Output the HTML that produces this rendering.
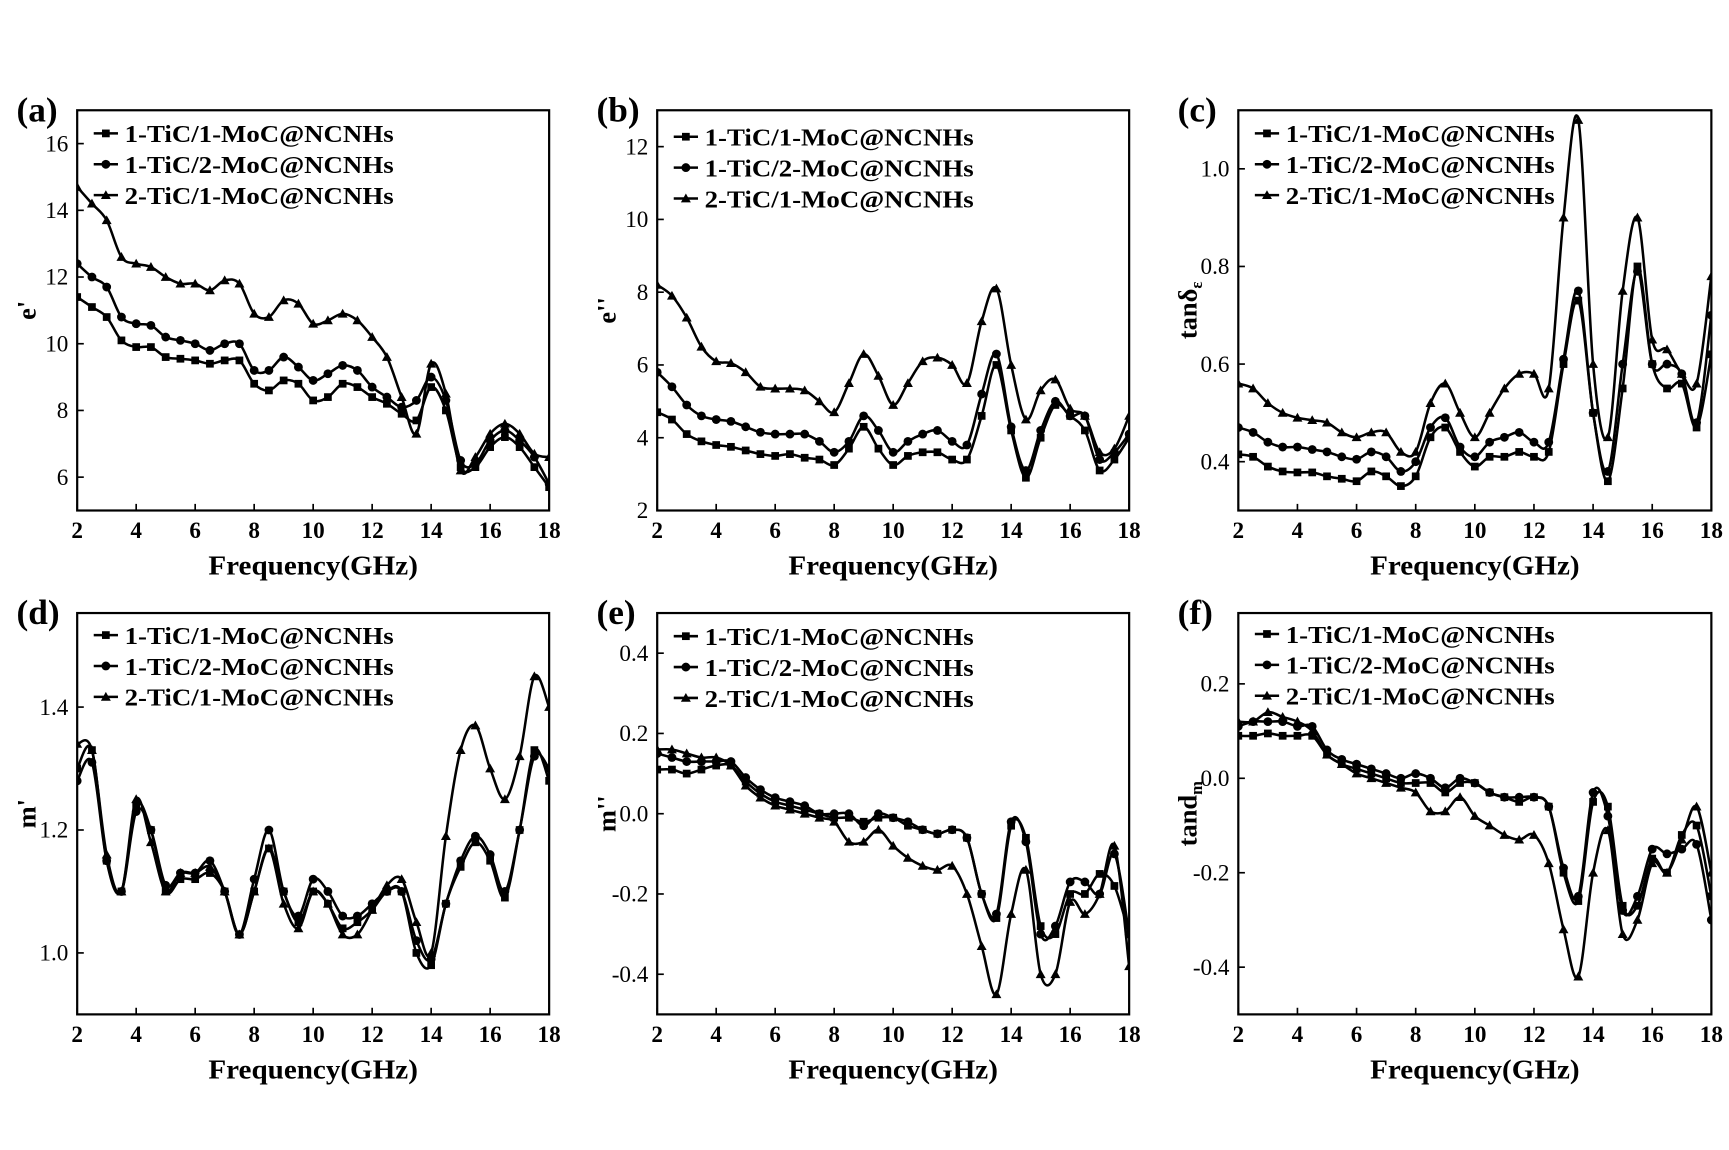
<!DOCTYPE html>
<html><head><meta charset="utf-8"><style>
html,body{margin:0;padding:0;background:#fff;}
svg{display:block;font-family:"Liberation Serif",serif;}
</style></head><body>
<svg id="chart" width="1729" height="1150" viewBox="0 0 1568 1043" preserveAspectRatio="none" xmlns="http://www.w3.org/2000/svg"></svg>
<script>
const freqs=[2,2.5,3,3.5,4,4.5,5,5.5,6,6.5,7,7.5,8,8.5,9,9.5,10,10.5,11,11.5,12,12.5,13,13.5,14,14.5,15,15.5,16,16.5,17,17.5,18];
const seriesNames=["1-TiC/1-MoC@NCNHs","1-TiC/2-MoC@NCNHs","2-TiC/1-MoC@NCNHs"];
const xTicks=[2,4,6,8,10,12,14,16,18];
const aS1=[11.4,11.1,10.8,10.1,9.9,9.9,9.6,9.55,9.5,9.4,9.5,9.5,8.8,8.6,8.9,8.8,8.3,8.4,8.8,8.7,8.4,8.2,7.9,7.7,8.7,8.0,6.3,6.3,6.9,7.2,6.9,6.3,5.7];
const aS2=[12.4,12.0,11.7,10.8,10.6,10.55,10.2,10.1,10.0,9.8,10.0,10.0,9.2,9.2,9.6,9.3,8.9,9.1,9.35,9.2,8.7,8.4,8.1,8.3,9.0,8.3,6.5,6.4,7.1,7.4,7.1,6.6,5.8];
const aS3=[14.7,14.2,13.7,12.6,12.4,12.3,12.0,11.8,11.8,11.6,11.9,11.8,10.9,10.8,11.3,11.2,10.6,10.7,10.9,10.7,10.2,9.6,8.4,7.3,9.4,8.5,6.2,6.6,7.3,7.6,7.3,6.7,6.6];
const aTicks=[6,8,10,12,14,16];
const bS1=[4.7,4.5,4.1,3.9,3.8,3.75,3.65,3.55,3.5,3.55,3.45,3.4,3.25,3.7,4.3,3.7,3.25,3.5,3.6,3.6,3.4,3.4,4.6,6.0,4.2,2.9,4.0,4.9,4.6,4.2,3.1,3.4,4.0];
const bS2=[5.8,5.4,4.9,4.6,4.5,4.45,4.3,4.15,4.1,4.1,4.1,3.9,3.6,3.9,4.6,4.2,3.6,3.9,4.1,4.2,3.9,3.8,5.2,6.3,4.3,3.1,4.2,5.0,4.6,4.6,3.4,3.6,4.1];
const bS3=[8.2,7.9,7.3,6.5,6.1,6.05,5.8,5.4,5.35,5.35,5.3,5.0,4.7,5.5,6.3,5.7,4.9,5.5,6.1,6.2,6.0,5.5,7.2,8.1,6.0,4.5,5.3,5.6,4.8,4.6,3.6,3.7,4.6];
const bTicks=[2,4,6,8,10,12];
const cS1=[0.415,0.41,0.39,0.38,0.378,0.378,0.37,0.365,0.36,0.38,0.37,0.35,0.37,0.45,0.47,0.42,0.39,0.41,0.41,0.42,0.41,0.42,0.6,0.73,0.5,0.36,0.55,0.8,0.6,0.55,0.56,0.47,0.62];
const cS2=[0.47,0.46,0.44,0.43,0.43,0.425,0.42,0.41,0.405,0.42,0.41,0.38,0.4,0.47,0.49,0.43,0.41,0.44,0.45,0.46,0.44,0.44,0.61,0.75,0.5,0.38,0.6,0.79,0.6,0.6,0.58,0.48,0.7];
const cS3=[0.56,0.55,0.52,0.5,0.49,0.485,0.48,0.46,0.45,0.46,0.46,0.42,0.42,0.52,0.56,0.5,0.45,0.5,0.55,0.58,0.58,0.55,0.9,1.1,0.6,0.45,0.75,0.9,0.65,0.63,0.58,0.56,0.78];
const cTicks=[0.4,0.6,0.8,1.0];
const dS1=[1.3,1.33,1.15,1.1,1.24,1.2,1.1,1.12,1.12,1.13,1.1,1.03,1.1,1.17,1.1,1.05,1.1,1.08,1.04,1.05,1.07,1.1,1.1,1.0,0.98,1.08,1.14,1.18,1.15,1.09,1.2,1.33,1.28];
const dS2=[1.28,1.31,1.15,1.1,1.23,1.2,1.11,1.13,1.13,1.15,1.1,1.03,1.12,1.2,1.1,1.06,1.12,1.1,1.06,1.06,1.08,1.1,1.1,1.02,0.99,1.08,1.15,1.19,1.16,1.1,1.2,1.32,1.3];
const dS3=[1.34,1.33,1.16,1.1,1.25,1.18,1.1,1.13,1.13,1.14,1.1,1.03,1.1,1.17,1.08,1.04,1.1,1.08,1.03,1.03,1.07,1.11,1.12,1.05,1.0,1.19,1.33,1.37,1.3,1.25,1.32,1.45,1.4];
const dTicks=[1.0,1.2,1.4];
const eS1=[0.11,0.11,0.1,0.11,0.12,0.12,0.08,0.05,0.03,0.02,0.01,0.0,-0.01,-0.01,-0.02,-0.01,-0.01,-0.03,-0.04,-0.05,-0.04,-0.06,-0.2,-0.26,-0.03,-0.06,-0.28,-0.3,-0.2,-0.2,-0.15,-0.18,-0.3];
const eS2=[0.15,0.14,0.13,0.13,0.13,0.13,0.09,0.06,0.04,0.03,0.02,0.0,0.0,0.0,-0.03,0.0,-0.01,-0.02,-0.04,-0.05,-0.04,-0.06,-0.2,-0.25,-0.02,-0.07,-0.3,-0.28,-0.17,-0.17,-0.2,-0.1,-0.3];
const eS3=[0.16,0.16,0.15,0.14,0.14,0.12,0.07,0.04,0.02,0.01,0.0,-0.01,-0.02,-0.07,-0.07,-0.04,-0.08,-0.11,-0.13,-0.14,-0.13,-0.2,-0.33,-0.45,-0.25,-0.14,-0.4,-0.4,-0.22,-0.25,-0.2,-0.08,-0.38];
const eTicks=[-0.4,-0.2,0.0,0.2,0.4];
const fS1=[0.09,0.09,0.095,0.09,0.09,0.09,0.05,0.03,0.02,0.01,0.0,-0.01,-0.01,-0.01,-0.03,-0.01,-0.01,-0.03,-0.04,-0.05,-0.04,-0.06,-0.2,-0.26,-0.05,-0.06,-0.27,-0.27,-0.17,-0.2,-0.12,-0.1,-0.25];
const fS2=[0.11,0.12,0.12,0.12,0.11,0.11,0.06,0.04,0.03,0.02,0.01,0.0,0.01,0.0,-0.02,0.0,-0.01,-0.03,-0.04,-0.04,-0.04,-0.06,-0.19,-0.25,-0.03,-0.08,-0.28,-0.25,-0.15,-0.16,-0.15,-0.14,-0.3];
const fS3=[0.12,0.12,0.14,0.13,0.12,0.1,0.05,0.03,0.01,0.0,-0.01,-0.02,-0.03,-0.07,-0.07,-0.04,-0.08,-0.1,-0.12,-0.13,-0.12,-0.18,-0.32,-0.42,-0.2,-0.11,-0.33,-0.3,-0.18,-0.2,-0.13,-0.06,-0.2];
const fTicks=[-0.4,-0.2,0.0,0.2];

const NS="http://www.w3.org/2000/svg";
const svg=document.getElementById('chart');
function mk(tag,attrs,parent){const e=document.createElementNS(NS,tag);for(const k in attrs)e.setAttribute(k,attrs[k]);(parent||svg).appendChild(e);return e;}

const panels=[
 {id:'a',label:'(a)',ylab:"e'",sub:null,x0:70,x1:498,y0:100,y1:463,ymin:5,ymax:17,ticks:aTicks,fmt:v=>String(v),data:[aS1,aS2,aS3],leg:{x:85,y:121}},
 {id:'b',label:'(b)',ylab:"e''",sub:null,x0:596,x1:1024,y0:100,y1:463,ymin:2,ymax:13,ticks:bTicks,fmt:v=>String(v),data:[bS1,bS2,bS3],leg:{x:611,y:124}},
 {id:'c',label:'(c)',ylab:"tanδ",sub:"ε",x0:1123,x1:1552,y0:100,y1:463,ymin:0.3,ymax:1.12,ticks:cTicks,fmt:v=>v.toFixed(1),data:[cS1,cS2,cS3],leg:{x:1138,y:121}},
 {id:'d',label:'(d)',ylab:"m'",sub:null,x0:70,x1:498,y0:556,y1:920,ymin:0.9,ymax:1.553,ticks:dTicks,fmt:v=>v.toFixed(1),data:[dS1,dS2,dS3],leg:{x:85,y:576}},
 {id:'e',label:'(e)',ylab:"m''",sub:null,x0:596,x1:1024,y0:556,y1:920,ymin:-0.5,ymax:0.5,ticks:eTicks,fmt:v=>v.toFixed(1),data:[eS1,eS2,eS3],leg:{x:611,y:577}},
 {id:'f',label:'(f)',ylab:"tand",sub:"m",x0:1123,x1:1552,y0:556,y1:920,ymin:-0.5,ymax:0.35,ticks:fTicks,fmt:v=>v.toFixed(1),data:[fS1,fS2,fS3],leg:{x:1138,y:575}}
];

function marker(g,type,x,y){
  let m;
  if(type===0){m=mk('rect',{x:x-3.5,y:y-3.5,width:7,height:7,fill:'#000'},g);}
  else if(type===1){m=mk('circle',{cx:x,cy:y,r:4,fill:'#000'},g);}
  else {m=mk('polygon',{points:`${x},${y-4.5} ${x-4.5},${y+3.5} ${x+4.5},${y+3.5}`,fill:'#000'},g);}
  return m;
}
function pathFrom(pts){
  let d=`M${pts[0][0]},${pts[0][1]}`;
  for(let i=0;i<pts.length-1;i++){
    const p0=pts[Math.max(0,i-1)],p1=pts[i],p2=pts[i+1],p3=pts[Math.min(pts.length-1,i+2)];
    const c1x=p1[0]+(p2[0]-p0[0])/6,c1y=p1[1]+(p2[1]-p0[1])/6;
    const c2x=p2[0]-(p3[0]-p1[0])/6,c2y=p2[1]-(p3[1]-p1[1])/6;
    d+=` C${c1x.toFixed(2)},${c1y.toFixed(2)} ${c2x.toFixed(2)},${c2y.toFixed(2)} ${p2[0].toFixed(2)},${p2[1].toFixed(2)}`;
  }
  return d;
}

panels.forEach(p=>{
  const g=mk('g',{});
  
  
  const xs=v=>p.x0+(v-2)/16*(p.x1-p.x0);
  const ys=v=>p.y1-(v-p.ymin)/(p.ymax-p.ymin)*(p.y1-p.y0);
  const clip=mk('clipPath',{id:'clip-'+p.id},g);
  mk('rect',{x:p.x0,y:p.y0,width:p.x1-p.x0,height:p.y1-p.y0},clip);
  p.data.forEach((arr,si)=>{
    const sg=mk('g',{'clip-path':`url(#clip-${p.id})`},g);
    
    
    const pts=arr.map((v,i)=>[xs(freqs[i]),ys(v)]);
    const pa=mk('path',{d:pathFrom(pts),fill:'none',stroke:'#000','stroke-width':2.3},sg);
    
    
    pts.forEach(pt=>{const m=marker(sg,si,pt[0],pt[1]);
      
      });
  });
  const fr=mk('rect',{x:p.x0,y:p.y0,width:p.x1-p.x0,height:p.y1-p.y0,fill:'none',stroke:'#000','stroke-width':2},g);
  
  
  xTicks.forEach(t=>{
    const x=xs(t);
    mk('line',{x1:x,x2:x,y1:p.y1,y2:p.y1-6,stroke:'#000','stroke-width':1.5},g);
    const tx=mk('text',{x:x,y:p.y1+25,'text-anchor':'middle','font-size':21,'font-weight':'bold'},g);
    tx.textContent=t;
    
    
  });
  p.ticks.forEach(t=>{
    const y=ys(t);
    mk('line',{x1:p.x0,x2:p.x0+6,y1:y,y2:y,stroke:'#000','stroke-width':1.5},g);
    const tx=mk('text',{x:p.x0-8,y:y+7,'text-anchor':'end','font-size':21},g);
    tx.textContent=p.fmt(t);
    
    
  });
  const xt=mk('text',{x:(p.x0+p.x1)/2,y:p.y1+58,'text-anchor':'middle','font-size':25,'font-weight':'bold',textLength:190,lengthAdjust:'spacingAndGlyphs'},g);
  xt.textContent='Frequency(GHz)';
  
  
  const cy=(p.y0+p.y1)/2;
  const yt=mk('text',{transform:`translate(${p.x0-38},${cy}) rotate(-90)`,'text-anchor':'middle','font-size':24,'font-weight':'bold'},g);
  yt.textContent=p.ylab;
  if(p.sub){const ts=mk('tspan',{'font-size':15,dy:5},yt);ts.textContent=p.sub;}
  
  
  const pl=mk('text',{x:p.x0-55,y:p.y0+10,'font-size':32,'font-weight':'bold'},g);
  pl.textContent=p.label;
  
  
  const lg=mk('g',{},g);
  
  
  seriesNames.forEach((n,i)=>{
    const y=p.leg.y+i*28;
    mk('line',{x1:p.leg.x,x2:p.leg.x+22,y1:y,y2:y,stroke:'#000','stroke-width':2.3},lg);
    const m=marker(lg,i,p.leg.x+11,y);
    
    
    const t=mk('text',{x:p.leg.x+28,y:y+8,'font-size':22,'font-weight':'bold',textLength:244,lengthAdjust:'spacingAndGlyphs'},lg);
    t.textContent=n;
    
    
  });
});
</script>
</body></html>
